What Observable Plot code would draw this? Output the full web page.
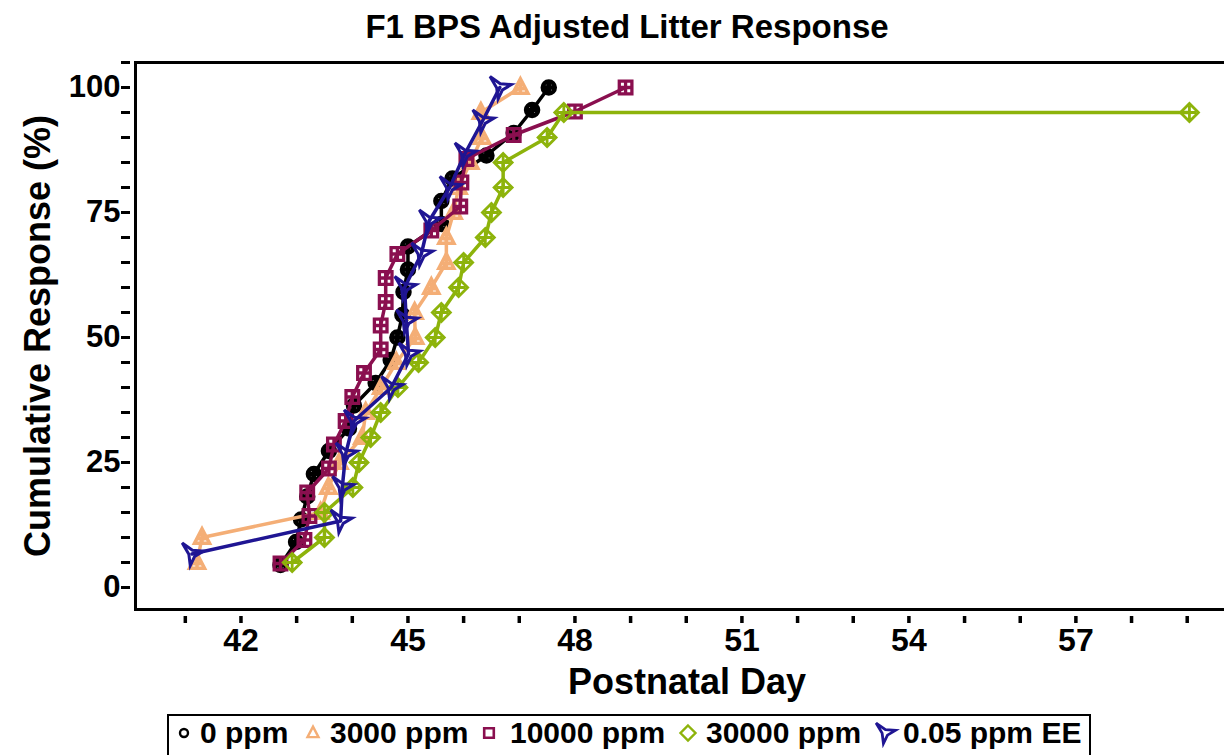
<!DOCTYPE html>
<html><head><meta charset="utf-8">
<script src="https://cdn.jsdelivr.net/npm/d3@7"></script>
<script src="https://cdn.jsdelivr.net/npm/@observablehq/plot@0.6"></script>
<style>
body{margin:0;background:#fff;width:1224px;height:755px;overflow:hidden;position:relative;font-family:"Liberation Sans",Arial,Helvetica,sans-serif;font-weight:bold;color:#000;}
#title{position:absolute;top:2px;left:15px;width:1224px;height:50px;line-height:50px;text-align:center;font-size:33px;}
#chart{position:absolute;top:50px;left:0;}
#legendbox{position:absolute;top:714px;left:167px;width:924px;height:60px;border:2px solid #000;box-sizing:border-box;}
.lt{position:absolute;top:714px;font-size:30px;line-height:38px;white-space:nowrap;}
.lm{position:absolute;}
</style></head>
<body>
<div id="title">F1 BPS Adjusted Litter Response</div>
<div id="chart"></div>
<div id="legendbox"></div>
<script>
// ---- data ----
const groups = ["0 ppm", "3000 ppm", "10000 ppm", "30000 ppm", "0.05 ppm EE"];
const colors = ["#000000", "#F4AE76", "#8A0F4F", "#8DB30B", "#1F1593"];

const day0 = [42.71, 42.99, 43.08, 43.19, 43.31, 43.58, 43.94, 44.03, 44.42, 44.69, 44.81, 44.90, 44.92, 45.00, 45.00, 45.60, 45.60, 45.80, 46.41, 46.90, 47.23, 47.53];
const pct0 = [4.5, 9.1, 13.6, 18.2, 22.7, 27.3, 31.8, 36.4, 40.9, 45.5, 50, 54.5, 59.1, 63.6, 68.2, 72.7, 77.3, 81.8, 86.4, 90.9, 95.5, 100];

const day3000 = [41.21, 41.30, 43.43, 43.57, 43.77, 44.18, 44.24, 44.52, 44.79, 45.13, 45.12, 45.42, 45.69, 45.69, 45.82, 45.91, 46.12, 46.33, 46.31, 47.02];
const pct3000 = [5, 10, 15, 20, 25, 30, 35, 40, 45, 50, 55, 60, 65, 70, 75, 80, 85, 90, 95, 100];

const day10000 = [42.71, 43.14, 43.23, 43.19, 43.58, 43.67, 43.88, 44.00, 44.21, 44.51, 44.51, 44.60, 44.60, 44.81, 45.42, 45.94, 45.96, 46.05, 46.90, 48.00, 48.91];
const pct10000 = [4.8, 9.5, 14.3, 19.0, 23.8, 28.6, 33.3, 38.1, 42.9, 47.6, 52.4, 57.1, 61.9, 66.7, 71.4, 76.2, 81.0, 85.7, 90.5, 95.2, 100];

const day30000 = [42.92, 43.50, 43.50, 44.01, 44.12, 44.33, 44.51, 44.82, 45.19, 45.49, 45.60, 45.91, 46.00, 46.39, 46.50, 46.71, 46.71, 47.50, 47.80, 59.04];
const pct30000 = [5, 10, 15, 20, 25, 30, 35, 40, 45, 50, 55, 60, 65, 70, 75, 80, 85, 90, 95, 95];

const dayEE = [41.12, 43.79, 43.82, 43.88, 44.03, 44.70, 45.01, 44.97, 44.94, 45.24, 45.38, 45.75, 46.02, 46.34, 46.65];
const pctEE = [6.7, 13.3, 20, 26.7, 33.3, 40, 46.7, 53.3, 60, 66.7, 73.3, 80, 86.7, 93.3, 100];

const xTicks = [41, 42, 43, 44, 45, 46, 47, 48, 49, 50, 51, 52, 53, 54, 55, 56, 57, 58, 59];
const xTickLabels = [42, 45, 48, 51, 54, 57];
const yTicks = [0, 5, 10, 15, 20, 25, 30, 35, 40, 45, 50, 55, 60, 65, 70, 75, 80, 85, 90, 95, 100, 105];
const yTickLabels = [0, 25, 50, 75, 100];
const xDomain = [40.105, 59.67];
const yDomain = [-4.4, 105];

// ---- symbols ----
const R = s => Math.sqrt(s / Math.PI);
function plus(c, a) { c.moveTo(-a, 0); c.lineTo(a, 0); c.moveTo(0, -a); c.lineTo(0, a); }
const symCircle = (withPlus) => ({draw(c, s) { const r = R(s); c.moveTo(r, 0); c.arc(0, 0, r, 0, 2 * Math.PI); if (withPlus) plus(c, r); }});
const symTriangle = (withPlus) => ({draw(c, s) { const r = R(s);
  c.moveTo(0, -1.15 * r); c.lineTo(r, 0.75 * r); c.lineTo(-r, 0.75 * r); c.closePath();
  if (withPlus) { c.moveTo(-0.5 * r, 0.15 * r); c.lineTo(0.5 * r, 0.15 * r); c.moveTo(0, -0.6 * r); c.lineTo(0, 0.75 * r); } }});
const symSquare = (withPlus) => ({draw(c, s) { const r = R(s); c.moveTo(-r, -r); c.lineTo(r, -r); c.lineTo(r, r); c.lineTo(-r, r); c.closePath(); if (withPlus) plus(c, r); }});
const symDiamond = (withPlus) => ({draw(c, s) { const r = R(s); c.moveTo(0, -r); c.lineTo(r, 0); c.lineTo(0, r); c.lineTo(-r, 0); c.closePath(); if (withPlus) plus(c, r * 0.75); }});
const symTack = () => ({draw(c, s) { const r = R(s);
  const V = [[-0.85, -0.95], [1.0, -0.25], [-0.15, 1.0]];
  const k = 0.55;
  c.moveTo(V[0][0] * r, V[0][1] * r);
  for (let i = 0; i < 3; i++) {
    const a = V[i], b = V[(i + 1) % 3];
    c.lineTo(k * (a[0] + b[0]) / 2 * r, k * (a[1] + b[1]) / 2 * r);
    c.lineTo(b[0] * r, b[1] * r);
  }
  c.closePath(); }});

const series = [
  {x: day0, y: pct0, sym: symCircle(true), r: 6, sw: 4.5, lsym: symCircle(false), lr: 4, lsw: 2.4},
  {x: day3000, y: pct3000, sym: symTriangle(true), r: 7.5, sw: 3.5, lsym: symTriangle(false), lr: 5.5, lsw: 2.4},
  {x: day10000, y: pct10000, sym: symSquare(true), r: 6.3, sw: 3.3, lsym: symSquare(false), lr: 4.8, lsw: 2.6},
  {x: day30000, y: pct30000, sym: symDiamond(true), r: 9, sw: 2.8, lsym: symDiamond(false), lr: 7.5, lsw: 2.4},
  {x: dayEE, y: pctEE, sym: symTack(), r: 11.5, sw: 3, lsym: symTack(), lr: 10.5, lsw: 2.8}
];

const marks = [
  Plot.frame({anchor: "left", strokeWidth: 3}),
  Plot.frame({anchor: "top", strokeWidth: 3}),
  Plot.frame({anchor: "bottom", strokeWidth: 3}),
  Plot.axisY({ticks: yTicks, tickSize: 9, dx: -5, strokeWidth: 3, text: null, label: null}),
  Plot.axisY({ticks: yTickLabels, tickSize: 0, tickPadding: 15, fontSize: 31, label: null}),
  Plot.axisX({ticks: xTicks, tickSize: 7, dy: 7, strokeWidth: 3.5, text: null, label: null}),
  Plot.axisX({ticks: xTickLabels, tickSize: 0, tickPadding: 19, fontSize: 32, label: null}),
  Plot.text(["Postnatal Day"], {text: d => d, frameAnchor: "bottom", textAnchor: "middle", dy: 72.5, dx: 7, fontSize: 36, lineAnchor: "middle"}),
  Plot.text(["Cumulative Response (%)"], {text: d => d, frameAnchor: "left", textAnchor: "middle", dx: -97, rotate: -90, fontSize: 36, lineAnchor: "middle"})
];

series.forEach((s, i) => {
  const data = s.x.map((d, j) => ({day: d, pct: s.y[j], group: groups[i]}));
  marks.push(Plot.line(data, {x: "day", y: "pct", stroke: colors[i], strokeWidth: 3.5}));
  marks.push(Plot.dot(data, {x: "day", y: "pct", symbol: s.sym, r: s.r, stroke: colors[i], strokeWidth: s.sw, fill: "none"}));
});

const chart = Plot.plot({
  width: 1224, height: 655,
  marginTop: 12, marginBottom: 96, marginLeft: 135, marginRight: 0,
  x: {domain: xDomain, label: null},
  y: {domain: yDomain, label: null},
  style: {fontFamily: "'Liberation Sans', Arial, sans-serif", fontWeight: "bold", color: "#000", background: "#fff", overflow: "visible"},
  marks
});
document.getElementById("chart").appendChild(chart);

// ---- legend ----
const legendMarkX = [184, 313, 489, 688, 885];
const legendTextX = [200, 330, 510, 706, 903];
groups.forEach((g, i) => {
  const s = series[i];
  const svg = d3.create("svg").attr("class", "lm").attr("width", 30).attr("height", 30)
    .style("left", (legendMarkX[i] - 15) + "px").style("top", (733 - 15) + "px");
  svg.append("path").attr("transform", "translate(15,15)")
    .attr("d", d3.symbol(s.lsym, s.lr * s.lr * Math.PI)())
    .attr("fill", "none").attr("stroke", colors[i]).attr("stroke-width", s.lsw);
  document.body.appendChild(svg.node());
  const t = document.createElement("div");
  t.className = "lt"; t.style.left = legendTextX[i] + "px"; t.textContent = g;
  document.body.appendChild(t);
});
</script>
</body></html>
